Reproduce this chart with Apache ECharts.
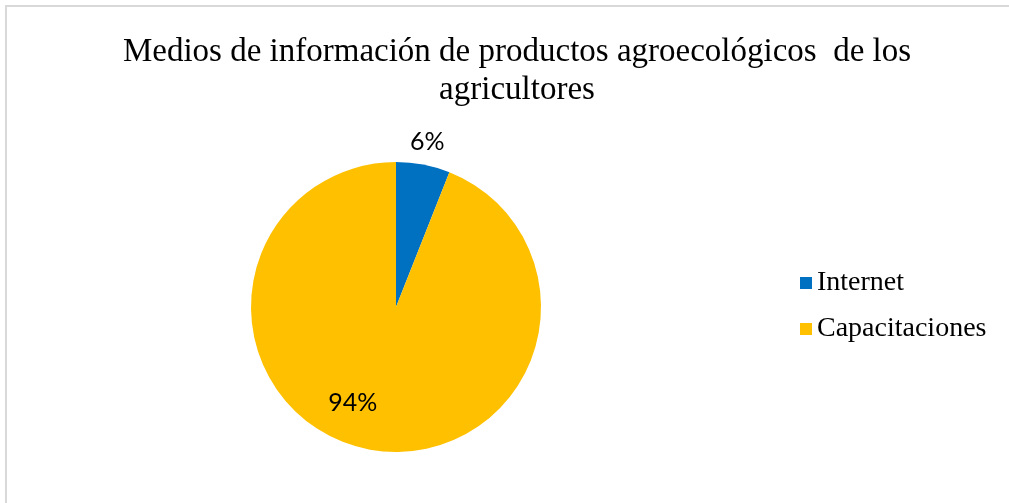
<!DOCTYPE html>
<html>
<head>
<meta charset="utf-8">
<script src="https://cdn.jsdelivr.net/npm/echarts@6/dist/echarts.min.js"></script>
<style>
  html, body { margin: 0; padding: 0; background: #fff; }
  #chart { width: 1009px; height: 503px; }
</style>
</head>
<body>
<div id="chart"></div>
<script>
// Information sources reported by the farmers (percent)
const categories = ['Internet', 'Capacitaciones'];
const values = [6, 94];
const colors = ['#0070C0', '#FFC000'];
// Per-slice label nudges (px) from the slice's inside anchor
const labelOffsets = [[17, -91], [-29, 22]];

const chart = echarts.init(document.getElementById('chart'), null, { renderer: 'canvas' });

const data = categories.map((name, i) => ({
  name,
  value: values[i],
  itemStyle: { color: colors[i] },
  label: { offset: labelOffsets[i] }
}));

chart.setOption({
  animation: false,
  backgroundColor: '#ffffff',
  graphic: [{
    type: 'rect',
    shape: { x: 6, y: 6, width: 1020, height: 520 },
    style: { fill: 'none', stroke: '#d9d9d9', lineWidth: 2 },
    silent: true
  }],
  title: {
    text: 'Medios de información de productos agroecológicos  de los\nagricultores',
    left: 512,
    top: 28,
    textAlign: 'center',
    textStyle: {
      fontFamily: 'Liberation Serif',
      fontWeight: 'normal',
      fontSize: 33,
      lineHeight: 38,
      color: '#000000'
    }
  },
  legend: {
    orient: 'vertical',
    left: 800,
    top: 269,
    padding: 0,
    itemWidth: 12,
    itemHeight: 12,
    itemGap: 18,
    icon: 'rect',
    data: categories,
    textStyle: {
      fontFamily: 'Liberation Serif',
      fontSize: 28,
      lineHeight: 28,
      color: '#000000'
    }
  },
  series: [{
    type: 'pie',
    center: [396, 307],
    radius: 145,
    startAngle: 90,
    clockwise: true,
    avoidLabelOverlap: false,
    label: {
      show: true,
      position: 'inside',
      formatter: '{c}%',
      fontFamily: 'Lato',
      fontSize: 25,
      color: '#000000'
    },
    labelLine: { show: false },
    emphasis: { disabled: true },
    data
  }]
});
</script>
</body>
</html>
